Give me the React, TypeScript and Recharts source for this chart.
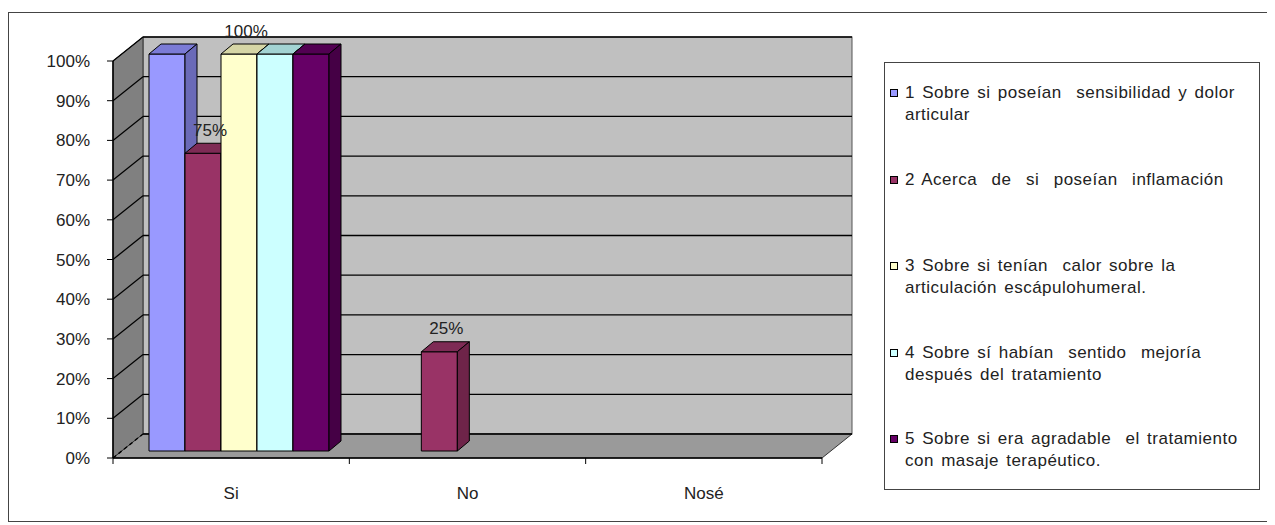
import { BarChart, Bar, XAxis, YAxis, CartesianGrid, LabelList } from 'recharts'

const categories = ['Si', 'No', 'Nosé']
const serie1 = [1, 0, 0]
const serie2 = [0.75, 0.25, 0]
const serie3 = [1, 0, 0]
const serie4 = [1, 0, 0]
const serie5 = [1, 0, 0]
const yTicks = [0, 0.1, 0.2, 0.3, 0.4, 0.5, 0.6, 0.7, 0.8, 0.9, 1]

const legendLines = [
  ['1 Sobre si poseían  sensibilidad y dolor', 'articular'],
  ['2 Acerca  de  si  poseían  inflamación'],
  ['3 Sobre si tenían  calor sobre la', 'articulación escápulohumeral.'],
  ['4 Sobre sí habían  sentido  mejoría', 'después del tratamiento'],
  ['5 Sobre si era agradable  el tratamiento', 'con masaje terapéutico.'],
]

const seriesColors = [
  { front: '#9999FF', top: '#7b7bd6', side: '#6a6ab8' },
  { front: '#993366', top: '#7e2b55', side: '#6e2449' },
  { front: '#FFFFCC', top: '#d6d6a6', side: '#b8b890' },
  { front: '#CCFFFF', top: '#a3d3d3', side: '#8fb8b8' },
  { front: '#660066', top: '#520052', side: '#450045' },
]

const data = categories.map((name, i) => ({
  name,
  s1: serie1[i],
  s2: serie2[i],
  s3: serie3[i],
  s4: serie4[i],
  s5: serie5[i],
}))

// depth of the 3d box, and where the bars sit inside it
const DX = 30
const DY = 24
const OX = 9
const OY = 7
const BX = 12
const BY = 10

const font = "'Liberation Sans', Arial, sans-serif"

const Bar3D = (props: any) => {
  const { x, y, width, height, colors } = props
  if (!height || height <= 0) return null
  const fx = x + OX
  const fy = y - OY
  const r = fx + width
  const b = fy + height
  return (
    <g stroke="#000" strokeWidth={1} strokeLinejoin="round">
      <rect x={fx} y={fy} width={width} height={height} fill={colors.front} />
      <polygon points={`${fx},${fy} ${fx + BX},${fy - BY} ${r + BX},${fy - BY} ${r},${fy}`} fill={colors.top} />
      <polygon points={`${r},${fy} ${r + BX},${fy - BY} ${r + BX},${b - BY} ${r},${b}`} fill={colors.side} />
    </g>
  )
}

// back wall, side wall and floor of the 3d box
const Walls = ({ x, y, width, height }: any) => {
  const b = y + height
  const r = x + width
  const n = categories.length
  return (
    <g>
      <rect x={x + DX} y={y - DY} width={width} height={height} fill="#c0c0c0" stroke="#555" strokeWidth={1} />
      <polygon points={`${x},${y} ${x + DX},${y - DY} ${x + DX},${b - DY} ${x},${b}`} fill="#808080" stroke="#333" strokeWidth={1} />
      <polygon points={`${x},${b} ${x + DX},${b - DY} ${r + DX},${b - DY} ${r},${b}`} fill="#9a9a9a" stroke="#333" strokeWidth={1} />
      {categories.concat(['']).map((_, i) => (
        <line key={i} x1={x + (i * width) / n} y1={b} x2={x + (i * width) / n} y2={b + 6} stroke="#000" />
      ))}
    </g>
  )
}

const GridLine = (props: any) => {
  const { x1, y1, x2, y2, x, y, width, height, index } = props
  const bottom = Math.abs(y1 - (y + height)) < 1
  return (
    <g key={`grid-${index}`}>
      {index === 0 && <Walls x={x} y={y} width={width} height={height} />}
      <line x1={x1} y1={y1} x2={x1 + DX} y2={y1 - DY} stroke="#000" strokeWidth={1.3} strokeDasharray={bottom ? '4 3' : undefined} />
      <line x1={x1 + DX} y1={y1 - DY} x2={x2 + DX} y2={y2 - DY} stroke="#000" strokeWidth={1.3} />
    </g>
  )
}

const ValueLabel = (props: any) => {
  const { x, y, width, value } = props
  if (!value) return null
  return (
    <text x={x + width / 2 + 16} y={y - 30} textAnchor="middle" dominantBaseline="central" fontSize={17} fill="#222" fontFamily={font}>
      {Math.round(value * 100)}%
    </text>
  )
}

export default function App() {
  const keys = ['s1', 's2', 's3', 's4', 's5']
  return (
    <div style={{ position: 'relative', width: 1267, height: 517, fontFamily: font }}>
      <div style={{ position: 'absolute', left: 0, top: 4, width: 1264, height: 510, border: '1px solid #444', boxSizing: 'border-box' }} />
      <div style={{ position: 'absolute', left: 0, top: 0 }}>
        <BarChart
          width={1267}
          height={517}
          data={data}
          margin={{ top: 53, right: 453, bottom: 37, left: 0 }}
          barCategoryGap={27}
          barGap={0}
        >
          <CartesianGrid vertical={false} horizontal={(p: any) => <GridLine {...p} />} />
          <XAxis
            dataKey="name"
            height={30}
            tickLine={false}
            tickSize={0}
            tickMargin={29}
            axisLine={{ stroke: '#000', strokeWidth: 1.5 }}
            tick={{ fontSize: 17, fill: '#222', fontFamily: font }}
          />
          <YAxis
            width={105}
            domain={[0, 1]}
            ticks={yTicks}
            tickFormatter={(v: number) => `${Math.round(v * 100)}%`}
            tickSize={6}
            tickMargin={17}
            axisLine={{ stroke: '#000', strokeWidth: 1.5 }}
            tickLine={{ stroke: '#000' }}
            tick={{ fontSize: 17, fill: '#222', fontFamily: font }}
          />
          {keys.map((k, i) => (
            <Bar
              key={k}
              dataKey={k}
              fill={seriesColors[i].front}
              isAnimationActive={false}
              shape={(p: any) => <Bar3D {...p} colors={seriesColors[i]} />}
            >
              {(k === 's2' || k === 's3') && <LabelList dataKey={k} content={<ValueLabel />} />}
            </Bar>
          ))}
        </BarChart>
      </div>
      <div
        style={{
          position: 'absolute',
          left: 876,
          top: 54,
          width: 376,
          height: 428,
          border: '1px solid #444',
          boxSizing: 'border-box',
          background: '#fff',
          paddingTop: 19,
          fontSize: 17,
          color: '#222',
        }}
      >
        {legendLines.map((lines, i) => (
          <div key={i} style={{ position: 'relative', height: 86.5, paddingLeft: 20, lineHeight: '22px', letterSpacing: 0.5, wordSpacing: 2 }}>
            <span
              style={{
                position: 'absolute',
                left: 5,
                top: 7,
                width: 6,
                height: 6,
                border: '1px solid #000',
                background: seriesColors[i].front,
              }}
            />
            {lines.map((l, j) => (
              <div key={j} style={{ whiteSpace: 'pre' }}>{l}</div>
            ))}
          </div>
        ))}
      </div>
    </div>
  )
}
